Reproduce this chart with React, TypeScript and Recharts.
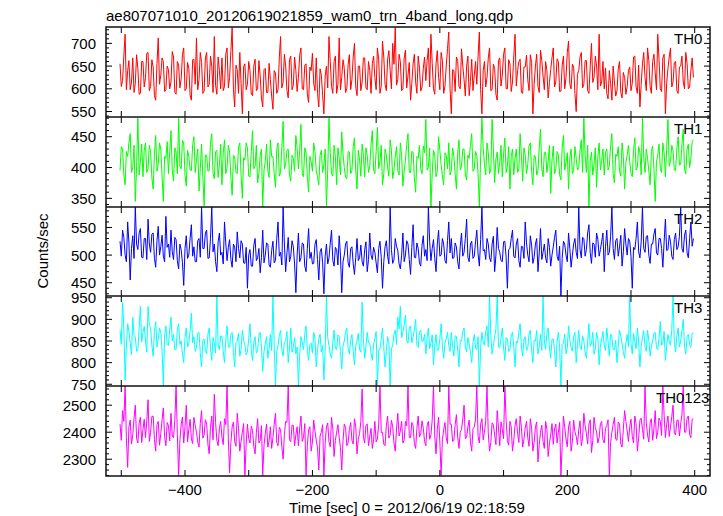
import React from 'react';
import { LineChart, Line, XAxis, YAxis } from 'recharts';

// time bins (sec), one value every 2 s from -502 s
const T_START = -502;
const T_STEP = 2;
const TIME_TICKS = [-500, -400, -300, -200, -100, 0, 100, 200, 300, 400];
const TIME_LABELS = [-400, -200, 0, 200, 400];

const TH0 = [
  655, 605, 618, 672, 720, 598, 640, 662, 598, 615, 668, 592, 612, 675, 645, 588, 590, 660, 660, 604,
  625, 678, 680, 596, 605, 664, 648, 585, 575, 655, 712, 610, 630, 668, 660, 594, 598, 650, 642, 600,
  615, 682, 670, 592, 588, 660, 652, 602, 622, 676, 690, 596, 600, 658, 645, 586, 575, 664, 665, 610,
  712, 598, 620, 680, 658, 590, 595, 668, 680, 604, 610, 672, 650, 592, 715, 608, 588, 670, 640, 600,
  668, 596, 605, 676, 690, 602, 625, 684, 735, 598, 560, 652, 642, 590, 680, 612, 545, 648, 655, 598,
  610, 660, 640, 588, 585, 650, 665, 596, 600, 662, 628, 580, 560, 642, 645, 592, 592, 656, 620, 584,
  555, 640, 635, 590, 598, 668, 715, 602, 615, 676, 650, 596, 580, 664, 672, 598, 608, 670, 640, 594,
  625, 674, 690, 600, 598, 652, 655, 588, 570, 648, 640, 678, 612, 596, 668, 590, 560, 644, 630, 586,
  545, 628, 650, 602, 715, 660, 605, 590, 660, 672, 590, 610, 712, 598, 625, 664, 645, 592, 600, 654,
  675, 598, 620, 670, 700, 604, 585, 650, 650, 596, 615, 668, 668, 602, 598, 660, 640, 590, 655, 672,
  625, 598, 690, 664, 590, 606, 705, 670, 610, 596, 665, 684, 640, 600, 700, 654, 735, 608, 620, 676,
  660, 596, 600, 668, 685, 602, 630, 658, 575, 612, 655, 676, 615, 590, 672, 646, 595, 604, 645, 670,
  618, 662, 690, 604, 720, 656, 600, 588, 655, 684, 625, 598, 680, 662, 590, 606, 650, 688, 725, 600,
  545, 642, 640, 594, 670, 662, 605, 600, 688, 650, 620, 584, 650, 672, 585, 616, 665, 596, 630, 660,
  610, 672, 725, 598, 545, 640, 660, 604, 625, 668, 690, 596, 598, 654, 645, 588, 575, 662, 668, 606,
  630, 676, 690, 600, 600, 664, 655, 594, 615, 670, 720, 606, 640, 660, 665, 592, 590, 648, 648, 674,
  620, 596, 675, 658, 545, 610, 650, 676, 605, 592, 685, 662, 628, 598, 660, 640, 580, 614, 642, 668,
  690, 604, 615, 666, 660, 594, 595, 652, 672, 600, 625, 680, 705, 610, 600, 654, 648, 590, 550, 632,
  640, 670, 680, 602, 610, 662, 662, 596, 590, 650, 700, 614, 625, 672, 650, 598, 720, 606, 615, 660,
  600, 646, 590, 578, 640, 612, 575, 650, 615, 584, 595, 644, 660, 592, 580, 636, 625, 588, 605, 640,
  648, 596, 612, 670, 672, 604, 590, 652, 560, 610, 655, 680, 625, 596, 690, 662, 605, 590, 660, 676,
  635, 598, 720, 664, 600, 594, 668, 676, 545, 612, 645, 670, 690, 604, 615, 658, 660, 596, 590, 648,
  650, 672, 615, 600, 680, 656, 600, 604, 640, 668, 625,
];

const TH1 = [
  395, 434, 430, 388, 372, 426, 418, 440, 455, 392, 400, 436, 345, 402, 480, 388, 410, 438, 385, 428,
  440, 392, 398, 436, 425, 384, 365, 422, 452, 394, 405, 440, 430, 386, 345, 418, 415, 442, 390, 426,
  460, 396, 378, 432, 425, 390, 480, 402, 398, 444, 440, 388, 370, 428, 418, 396, 395, 436, 450, 392,
  412, 430, 362, 398, 438, 386, 338, 420, 420, 394, 395, 440, 455, 390, 382, 426, 428, 384, 405, 438,
  372, 424, 445, 390, 400, 436, 425, 384, 355, 420, 418, 392, 390, 434, 440, 388, 350, 416, 412, 440,
  432, 386, 385, 426, 460, 398, 402, 436, 375, 390, 420, 430, 336, 396, 410, 438, 395, 384, 445, 418,
  418, 390, 368, 430, 440, 386, 392, 434, 475, 398, 405, 428, 430, 388, 378, 420, 415, 394, 452, 432,
  398, 428, 470, 390, 385, 432, 425, 386, 360, 418, 410, 394, 440, 426, 395, 384, 372, 420, 428, 392,
  405, 430, 338, 396, 480, 424, 390, 386, 436, 418, 372, 432, 415, 388, 458, 422, 400, 384, 382, 426,
  425, 390, 395, 434, 448, 394, 365, 428, 412, 386, 438, 420, 385, 432, 420, 392, 402, 438, 460, 396,
  390, 426, 465, 398, 410, 436, 372, 390, 430, 420, 400, 386, 445, 428, 382, 396, 418, 434, 395, 388,
  440, 420, 370, 394, 412, 438, 455, 392, 392, 426, 425, 384, 360, 418, 415, 436, 398, 390, 435, 424,
  478, 396, 400, 432, 336, 390, 428, 420, 385, 394, 450, 428, 405, 386, 372, 424, 420, 398, 440, 388,
  395, 432, 418, 390, 365, 424, 445, 396, 402, 430, 430, 388, 380, 420, 415, 436, 455, 394, 398, 426,
  420, 390, 336, 418, 480, 432, 405, 388, 440, 424, 390, 396, 478, 430, 375, 414, 425, 390, 410, 436,
  385, 422, 448, 392, 402, 434, 365, 418, 430, 388, 415, 430, 392, 398, 455, 420, 378, 432, 420, 390,
  405, 436, 440, 394, 372, 420, 418, 388, 395, 432, 462, 398, 385, 424, 425, 392, 410, 436, 358, 412,
  435, 390, 398, 426, 420, 388, 380, 432, 452, 396, 408, 424, 365, 416, 430, 390, 395, 434, 415, 396,
  400, 428, 445, 392, 480, 420, 392, 436, 336, 410, 425, 388, 405, 432, 368, 418, 440, 396, 412, 430,
  388, 424, 430, 396, 402, 436, 455, 390, 375, 422, 418, 434, 395, 386, 440, 418, 365, 408, 420, 436,
  410, 390, 385, 428, 448, 396, 400, 434, 425, 388, 480, 416, 392, 430, 415, 394, 372, 426, 435, 398,
  345, 410, 420, 438, 398, 392, 440, 424, 385, 430, 478, 402, 410, 436, 428, 396, 395, 432, 450, 404,
  405, 438, 462, 398, 390, 430, 438, 400, 415, 442, 445,
];

const TH2 = [
  525, 498, 545, 532, 500, 488, 560, 522, 455, 512, 535, 494, 587, 520, 510, 540, 548, 496, 495, 530,
  530, 492, 565, 520, 505, 538, 540, 494, 478, 526, 552, 500, 515, 536, 498, 488, 570, 514, 520, 496,
  545, 506, 492, 532, 528, 490, 475, 520, 510, 486, 445, 512, 535, 494, 500, 530, 555, 498, 515, 488,
  488, 526, 530, 496, 587, 512, 512, 540, 545, 494, 495, 530, 587, 506, 520, 488, 470, 524, 540, 500,
  505, 484, 560, 522, 490, 514, 528, 492, 478, 520, 515, 488, 542, 512, 495, 526, 520, 486, 485, 514,
  440, 500, 510, 480, 480, 518, 530, 490, 495, 512, 468, 496, 545, 486, 500, 522, 520, 482, 478, 508,
  525, 486, 490, 530, 560, 498, 505, 482, 587, 520, 470, 504, 532, 488, 498, 526, 515, 484, 432, 500,
  540, 488, 495, 522, 520, 480, 470, 512, 548, 494, 505, 484, 485, 520, 528, 492, 455, 506, 512, 486,
  430, 498, 520, 484, 495, 522, 545, 490, 480, 514, 510, 482, 535, 500, 432, 488, 500, 520, 525, 486,
  478, 512, 515, 484, 465, 496, 530, 490, 495, 518, 488, 480, 510, 524, 470, 492, 540, 500, 492, 514,
  505, 486, 468, 512, 525, 496, 440, 488, 515, 526, 498, 484, 587, 510, 485, 492, 530, 516, 508, 484,
  475, 500, 540, 488, 500, 526, 520, 492, 465, 514, 555, 496, 495, 522, 512, 486, 480, 518, 535, 498,
  510, 490, 587, 524, 490, 512, 528, 494, 470, 520, 545, 498, 500, 530, 520, 490, 485, 526, 560, 504,
  530, 494, 495, 522, 515, 488, 475, 516, 540, 498, 505, 530, 565, 496, 488, 520, 525, 494, 498, 524,
  545, 502, 480, 528, 587, 508, 510, 492, 530, 520, 495, 488, 520, 534, 470, 500, 550, 512, 505, 490,
  488, 524, 525, 496, 440, 510, 512, 530, 545, 498, 495, 520, 530, 490, 478, 516, 515, 494, 560, 522,
  500, 488, 535, 518, 485, 496, 520, 530, 470, 504, 548, 492, 505, 520, 495, 486, 530, 514, 480, 500,
  515, 532, 545, 498, 490, 516, 426, 494, 525, 520, 500, 488, 540, 512, 478, 500, 520, 530, 505, 494,
  587, 510, 495, 532, 530, 498, 510, 540, 555, 504, 485, 522, 520, 496, 540, 528, 498, 510, 525, 540,
  470, 516, 545, 500, 505, 534, 587, 512, 492, 526, 530, 498, 515, 536, 480, 506, 548, 520, 500, 530,
  525, 498, 440, 514, 510, 530, 560, 506, 495, 524, 587, 512, 505, 534, 535, 500, 485, 520, 520, 538,
  548, 504, 500, 530, 530, 512, 478, 524, 565, 508, 510, 536, 525, 498, 492, 528, 540, 510, 515, 534,
  587, 512, 505, 536, 545, 504, 495, 530, 560, 516, 530,
];

const TH3 = [
  875, 842, 940, 880, 760, 836, 890, 872, 845, 818, 905, 862, 860, 826, 830, 878, 930, 848, 870, 884,
  850, 824, 930, 886, 880, 840, 815, 872, 895, 836, 855, 880, 870, 828, 746, 862, 885, 842, 840, 876,
  905, 850, 865, 830, 830, 876, 890, 842, 850, 820, 800, 858, 880, 836, 845, 874, 915, 846, 860, 826,
  835, 868, 870, 822, 790, 852, 855, 828, 820, 866, 880, 834, 805, 858, 845, 822, 954, 840, 830, 862,
  860, 826, 800, 852, 885, 836, 835, 866, 870, 824, 790, 846, 850, 868, 815, 830, 875, 852, 840, 818,
  825, 856, 890, 830, 805, 848, 860, 822, 830, 864, 870, 838, 780, 826, 845, 860, 810, 834, 865, 828,
  954, 840, 746, 826, 840, 862, 875, 830, 815, 848, 850, 872, 800, 834, 880, 824, 835, 858, 820, 836,
  746, 820, 860, 848, 830, 866, 885, 828, 805, 842, 845, 822, 870, 856, 790, 830, 855, 866, 825, 840,
  760, 830, 954, 858, 840, 820, 810, 846, 875, 832, 830, 864, 860, 826, 785, 838, 850, 870, 880, 834,
  820, 852, 865, 826, 795, 840, 850, 868, 830, 824, 940, 856, 810, 838, 870, 846, 845, 822, 805, 842,
  855, 872, 746, 830, 830, 856, 880, 836, 790, 826, 860, 848, 746, 832, 840, 866, 875, 842, 905, 878,
  930, 858, 870, 888, 910, 850, 845, 880, 885, 846, 860, 876, 900, 840, 835, 872, 875, 848, 850, 866,
  820, 858, 880, 832, 845, 864, 795, 840, 865, 828, 830, 856, 890, 836, 810, 846, 855, 870, 840, 826,
  870, 838, 815, 862, 860, 830, 790, 852, 850, 872, 880, 836, 825, 858, 845, 824, 800, 846, 865, 834,
  830, 860, 746, 834, 870, 848, 840, 872, 885, 836, 954, 862, 820, 840, 860, 878, 954, 836, 835, 856,
  880, 834, 805, 858, 855, 826, 830, 862, 870, 838, 790, 850, 845, 872, 890, 836, 815, 854, 860, 828,
  835, 866, 875, 830, 800, 852, 850, 874, 820, 838, 865, 828, 954, 850, 830, 868, 880, 836, 810, 854,
  855, 828, 790, 850, 870, 836, 746, 842, 845, 866, 820, 834, 885, 852, 835, 826, 860, 870, 800, 840,
  875, 836, 830, 862, 850, 824, 810, 848, 890, 838, 845, 870, 820, 832, 870, 856, 795, 838, 855, 872,
  840, 828, 880, 850, 815, 866, 860, 830, 830, 852, 800, 838, 875, 862, 845, 824, 810, 846, 865, 836,
  954, 844, 820, 868, 850, 832, 880, 848, 790, 836, 860, 874, 835, 826, 875, 852, 815, 840, 850, 868,
  870, 834, 830, 856, 895, 840, 845, 872, 805, 838, 865, 850, 840, 876, 954, 846, 825, 862, 880, 836,
  850, 874, 900, 838, 820, 860, 865, 842, 835, 868, 870,
];

const TH0123 = [
  2430, 2370, 2480, 2440, 2571, 2380, 2270, 2420, 2445, 2356, 2390, 2452, 2500, 2378, 2360, 2434, 2455, 2362, 2410, 2448,
  2380, 2442, 2520, 2366, 2400, 2458, 2460, 2374, 2330, 2428, 2440, 2352, 2395, 2446, 2490, 2384, 2350, 2436, 2425, 2368,
  2470, 2386, 2380, 2444, 2571, 2392, 2240, 2372, 2430, 2456, 2360, 2420, 2500, 2364, 2410, 2448, 2375, 2358, 2455, 2426,
  2400, 2364, 2345, 2432, 2480, 2378, 2390, 2446, 2430, 2354, 2320, 2418, 2460, 2372, 2540, 2436, 2370, 2350, 2415, 2440,
  2380, 2354, 2450, 2428, 2571, 2376, 2250, 2362, 2420, 2438, 2365, 2348, 2470, 2414, 2330, 2366, 2400, 2432, 2240, 2356,
  2430, 2376, 2360, 2422, 2405, 2346, 2320, 2398, 2450, 2360, 2370, 2424, 2240, 2352, 2395, 2430, 2345, 2368, 2420, 2340,
  2380, 2428, 2470, 2362, 2350, 2418, 2410, 2346, 2300, 2392, 2440, 2436, 2571, 2372, 2365, 2426, 2425, 2350, 2390, 2420,
  2350, 2416, 2460, 2366, 2380, 2432, 2240, 2352, 2410, 2420, 2330, 2364, 2445, 2404, 2370, 2342, 2260, 2386, 2400, 2428,
  2240, 2358, 2420, 2434, 2365, 2346, 2455, 2412, 2310, 2370, 2400, 2428, 2380, 2344, 2260, 2368, 2430, 2418, 2350, 2362,
  2410, 2436, 2370, 2356, 2450, 2420, 2320, 2374, 2395, 2440, 2560, 2382, 2360, 2426, 2430, 2350, 2385, 2414, 2340, 2372,
  2440, 2364, 2375, 2430, 2571, 2398, 2400, 2356, 2350, 2424, 2460, 2378, 2390, 2444, 2420, 2360, 2330, 2412, 2470, 2386,
  2405, 2440, 2360, 2372, 2440, 2424, 2571, 2380, 2380, 2436, 2425, 2358, 2340, 2414, 2460, 2382, 2395, 2442, 2415, 2366,
  2350, 2426, 2440, 2374, 2390, 2446, 2571, 2386, 2320, 2410, 2455, 2364, 2240, 2372, 2410, 2436, 2380, 2358, 2571, 2430,
  2430, 2366, 2370, 2428, 2465, 2382, 2340, 2400, 2410, 2448, 2500, 2376, 2380, 2420, 2445, 2364, 2330, 2412, 2420, 2446,
  2571, 2384, 2360, 2430, 2450, 2372, 2400, 2442, 2571, 2396, 2330, 2362, 2435, 2428, 2390, 2354, 2480, 2416, 2350, 2438,
  2410, 2376, 2571, 2444, 2370, 2352, 2440, 2420, 2330, 2368, 2425, 2450, 2395, 2362, 2460, 2418, 2345, 2374, 2415, 2440,
  2380, 2348, 2450, 2416, 2330, 2362, 2420, 2438, 2290, 2354, 2400, 2426, 2365, 2340, 2440, 2410, 2310, 2358, 2390, 2432,
  2355, 2412, 2430, 2360, 2400, 2436, 2240, 2350, 2460, 2418, 2375, 2346, 2420, 2440, 2330, 2366, 2445, 2402, 2385, 2354,
  2410, 2442, 2350, 2378, 2470, 2424, 2395, 2356, 2430, 2446, 2325, 2370, 2455, 2418, 2400, 2360, 2380, 2432, 2440, 2372,
  2360, 2414, 2425, 2446, 2240, 2362, 2400, 2428, 2455, 2374, 2370, 2438, 2430, 2356, 2345, 2412, 2480, 2440, 2405, 2366,
  2420, 2448, 2385, 2360, 2460, 2432, 2330, 2378, 2445, 2452, 2410, 2374, 2571, 2436, 2390, 2364, 2435, 2450, 2370, 2412,
  2480, 2376, 2400, 2452, 2440, 2388, 2571, 2462, 2380, 2430, 2460, 2384, 2420, 2458, 2500, 2398, 2390, 2444, 2445, 2386,
  2430, 2466, 2571, 2400, 2400, 2452, 2460, 2392, 2380, 2448, 2450,
];

// y-axis ticks (minor + labelled majors) per panel
const TICKS_0 = [540, 550, 560, 570, 580, 590, 600, 610, 620, 630, 640, 650, 660, 670, 680, 690, 700, 710, 720, 730];
const MAJOR_0 = [550, 600, 650, 700];
const TICKS_1 = [340, 350, 360, 370, 380, 390, 400, 410, 420, 430, 440, 450, 460, 470, 480];
const MAJOR_1 = [350, 400, 450];
const TICKS_2 = [430, 440, 450, 460, 470, 480, 490, 500, 510, 520, 530, 540, 550, 560, 570, 580];
const MAJOR_2 = [450, 500, 550];
const TICKS_3 = [750, 760, 770, 780, 790, 800, 810, 820, 830, 840, 850, 860, 870, 880, 890, 900, 910, 920, 930, 940, 950];
const MAJOR_3 = [750, 800, 850, 900, 950];
const TICKS_4 = [2240, 2260, 2280, 2300, 2320, 2340, 2360, 2380, 2400, 2420, 2440, 2460, 2480, 2500, 2520, 2540, 2560];
const MAJOR_4 = [2300, 2400, 2500];

const W = 723;
const H = 516;
const LEFT = 106;
const RIGHT = 710;
const FONT = '"Liberation Sans", Arial, Helvetica, sans-serif';

const PANELS = [
  { name: 'TH0', values: TH0, color: '#ff0000', domain: [538, 736], ticks: TICKS_0, majors: MAJOR_0, top: 27, bottom: 117, labelX: 674 },
  { name: 'TH1', values: TH1, color: '#00ff00', domain: [336, 482], ticks: TICKS_1, majors: MAJOR_1, top: 117, bottom: 207, labelX: 674 },
  { name: 'TH2', values: TH2, color: '#0000ff', domain: [426, 587], ticks: TICKS_2, majors: MAJOR_2, top: 207, bottom: 296, labelX: 674 },
  { name: 'TH3', values: TH3, color: '#00ffff', domain: [746, 954], ticks: TICKS_3, majors: MAJOR_3, top: 296, bottom: 386, labelX: 674 },
  { name: 'TH0123', values: TH0123, color: '#ff00ff', domain: [2238, 2571], ticks: TICKS_4, majors: MAJOR_4, top: 386, bottom: 476, labelX: 656 },
];

function Panel({ p, last }: { p: any; last: boolean }) {
  const rows = p.values.map((v: number, i: number) => ({ t: T_START + i * T_STEP, v }));
  const renderX = (props: any) => {
    const x = props.x;
    const v = props.payload.value;
    return (
      <g>
        <line x1={x} x2={x} y1={p.bottom} y2={p.bottom - 6} stroke="#000" strokeWidth={1} />
        <line x1={x} x2={x} y1={p.top} y2={p.top + 6} stroke="#000" strokeWidth={1} />
        {last && TIME_LABELS.includes(v) ? (
          <text x={x} y={p.bottom + 13} textAnchor="middle" dominantBaseline="central" fontSize={15} fontFamily={FONT} fill="#000">
            {v < 0 ? '\u2212' + Math.abs(v) : String(v)}
          </text>
        ) : null}
      </g>
    );
  };
  const renderY = (props: any) => {
    const y = props.y;
    const v = props.payload.value;
    const major = p.majors.includes(v);
    const len = major ? 6 : 3;
    return (
      <g>
        <line x1={LEFT} x2={LEFT + len} y1={y} y2={y} stroke="#000" strokeWidth={1} />
        <line x1={RIGHT - len} x2={RIGHT} y1={y} y2={y} stroke="#000" strokeWidth={1} />
        {major ? (
          <text x={96} y={y} textAnchor="end" dominantBaseline="central" fontSize={15} fontFamily={FONT} fill="#000">
            {String(v)}
          </text>
        ) : null}
      </g>
    );
  };
  return (
    <div style={{ position: 'absolute', left: 0, top: 0, width: W, height: H }}>
      <LineChart
        width={W}
        height={H}
        data={rows}
        margin={{ top: p.top, right: W - RIGHT, bottom: H - p.bottom - 1, left: 0 }}
      >
        <XAxis
          dataKey="t"
          type="number"
          domain={[-524, 424]}
          ticks={TIME_TICKS}
          interval={0}
          height={1}
          tickSize={0}
          tickMargin={0}
          axisLine={false}
          tickLine={false}
          tick={renderX}
          allowDataOverflow
        />
        <YAxis
          type="number"
          domain={p.domain}
          ticks={p.ticks}
          interval={0}
          width={LEFT}
          tickSize={0}
          tickMargin={0}
          axisLine={false}
          tickLine={false}
          tick={renderY}
          allowDataOverflow
        />
        <Line
          type="linear"
          dataKey="v"
          stroke={p.color}
          strokeWidth={1}
          dot={false}
          isAnimationActive={false}
        />
      </LineChart>
    </div>
  );
}

export default function App() {
  return (
    <div style={{ position: 'absolute', left: 0, top: 0, width: W, height: H, background: '#fff' }}>
      {PANELS.map((p, i) => (
        <Panel key={p.name} p={p} last={i === PANELS.length - 1} />
      ))}
      <svg width={W} height={H} style={{ position: 'absolute', left: 0, top: 0, pointerEvents: 'none' }}>
        <rect x={LEFT} y={27} width={RIGHT - LEFT} height={476 - 27} fill="none" stroke="#111" strokeWidth={1.5} />
        {PANELS.slice(1).map((p) => (
          <line key={p.name} x1={LEFT} x2={RIGHT} y1={p.top} y2={p.top} stroke="#111" strokeWidth={1.5} />
        ))}
        {PANELS.map((p) => (
          <text key={p.name} x={p.labelX} y={p.top + 11} dominantBaseline="central" fontSize={15} fontFamily={FONT} fill="#000">
            {p.name}
          </text>
        ))}
        <text x={106} y={15} dominantBaseline="central" fontSize={15} fontFamily={FONT} fill="#000">
          ae807071010_20120619021859_wam0_trn_4band_long.qdp
        </text>
        <text x={407} y={507} textAnchor="middle" dominantBaseline="central" fontSize={15} fontFamily={FONT} fill="#000">
          Time [sec] 0 = 2012/06/19 02:18:59
        </text>
        <text x={42} y={251} textAnchor="middle" dominantBaseline="central" fontSize={15} fontFamily={FONT} fill="#000" transform="rotate(-90 42 251)">
          Counts/sec
        </text>
      </svg>
    </div>
  );
}
